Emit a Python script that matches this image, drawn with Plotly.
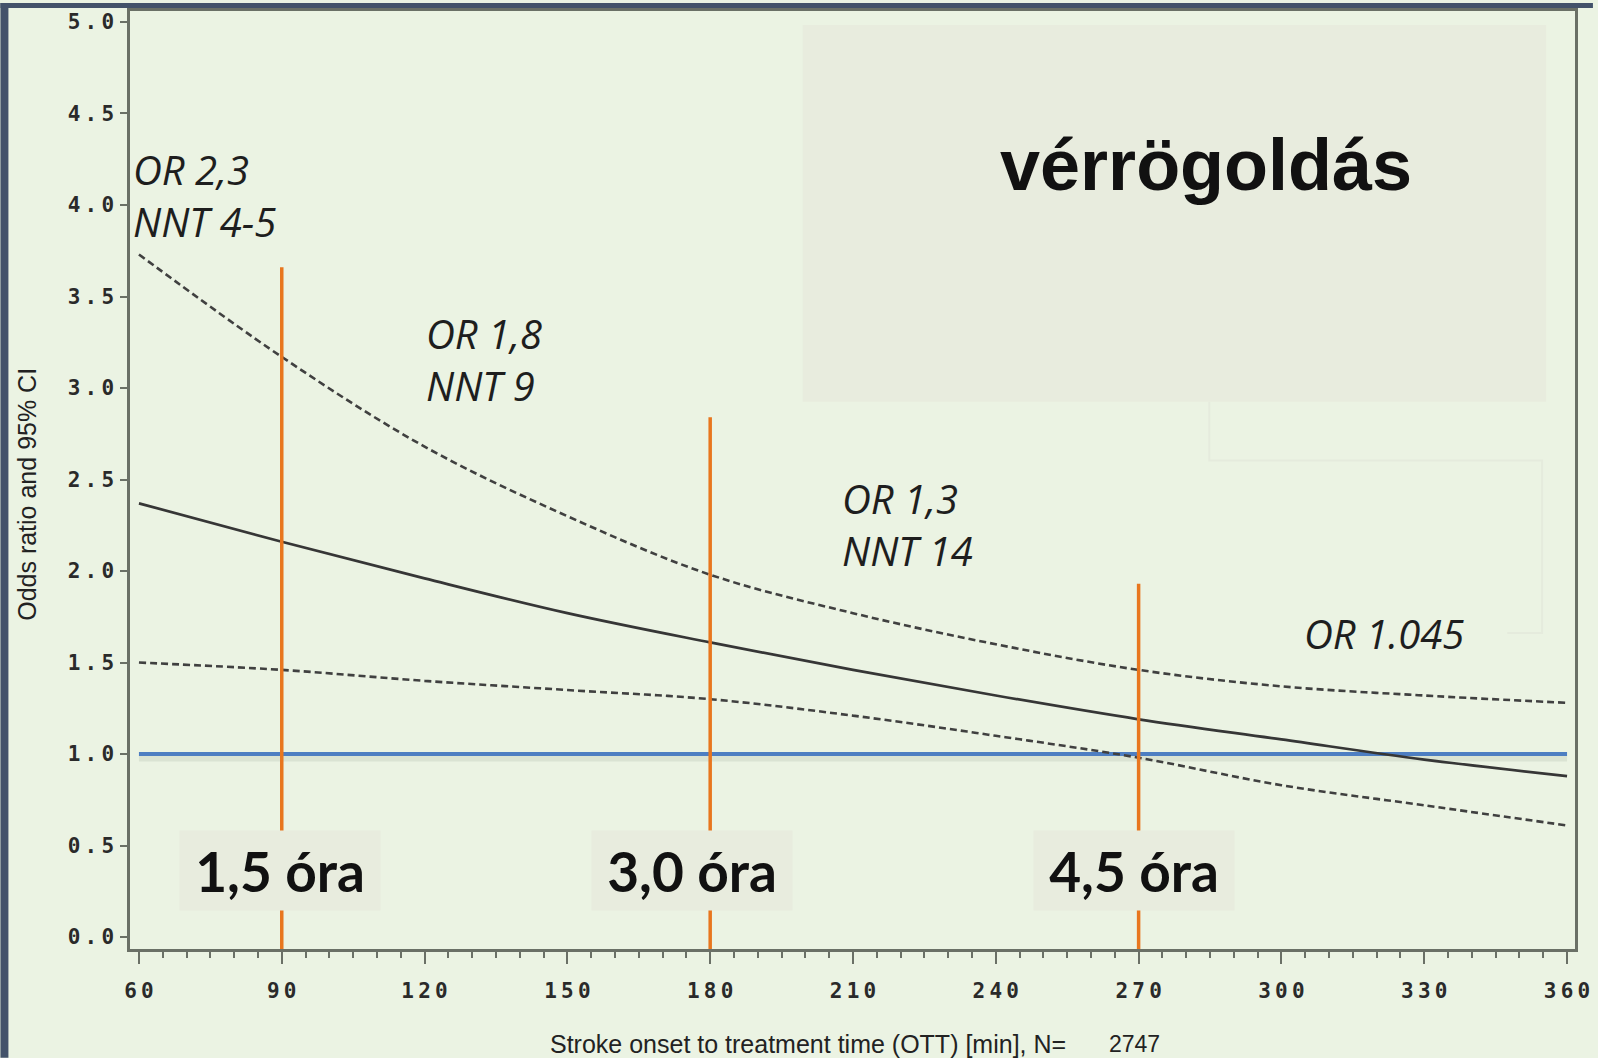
import plotly.graph_objects as go

# Stroke onset to treatment time (minutes) and odds ratio with 95% CI
ott_min = [60, 90, 120, 150, 180, 210, 240, 270, 300, 330, 360]
odds_ratio = [2.37, 2.16, 1.96, 1.77, 1.61, 1.46, 1.32, 1.19, 1.08, 0.97, 0.88]
ci_upper = [3.73, 3.17, 2.68, 2.30, 1.98, 1.77, 1.60, 1.46, 1.37, 1.32, 1.28]
ci_lower = [1.50, 1.46, 1.40, 1.35, 1.30, 1.21, 1.10, 0.98, 0.83, 0.72, 0.61]

# Reference line OR = 1
ref_x = [60, 360]
ref_y = [1.0, 1.0]

# Time markers (minutes) and the height of each marker line
marker_min = [90, 180, 270]
marker_top = [3.66, 2.84, 1.93]
marker_labels = ["1,5 óra", "3,0 óra", "4,5 óra"]

# Effect annotations
effect_labels = ["OR 2,3<br>NNT 4-5", "OR 1,8<br>NNT 9", "OR 1,3<br>NNT 14", "OR 1.045"]

title_text = "vérrögoldás"
x_title = "Stroke onset to treatment time (OTT) [min], N="
n_text = "2747"
y_title = "Odds ratio and 95% CI"

y_ticks = [0.0, 0.5, 1.0, 1.5, 2.0, 2.5, 3.0, 3.5, 4.0, 4.5, 5.0]
x_ticks = [60, 90, 120, 150, 180, 210, 240, 270, 300, 330, 360]

W, H = 1598, 1058
ML, MR, MT, MB = 130, 18, 8, 109
PW, PH = W - ML - MR, H - MT - MB
XMIN, XMAX = 58.12, 361.67
YMIN, YMAX = -0.065, 5.06

BG = "#EBF3E3"
BOX = "#E8ECDE"
SLATE = "#43526A"
ORANGE = "#E8761E"
CURVE = "#363636"


def px_x(px):
    return XMIN + (px - ML) / PW * (XMAX - XMIN)


def px_y(py):
    return YMAX - (py - MT) / PH * (YMAX - YMIN)


def paper_x(px):
    return (px - ML) / PW


def paper_y(py):
    return (MT + PH - py) / PH


THIN = "<span style='font-size:7px'> </span>"


def spaced(s):
    return THIN.join(list(s))


fig = go.Figure()

# shadow under the reference line
fig.add_trace(go.Scatter(x=ref_x, y=[v - 0.022 for v in ref_y], mode="lines",
                         line=dict(color="rgba(60,70,50,0.09)", width=7),
                         hoverinfo="skip", showlegend=False))
fig.add_trace(go.Scatter(x=ref_x, y=ref_y, mode="lines",
                         line=dict(color="#4D7EC2", width=4),
                         hoverinfo="skip", showlegend=False))

# confidence band limits and the OR curve
fig.add_trace(go.Scatter(x=ott_min, y=ci_upper, mode="lines", line_shape="spline",
                         line=dict(color="#404040", width=2.6, dash="7px,4px"),
                         showlegend=False))
fig.add_trace(go.Scatter(x=ott_min, y=ci_lower, mode="lines", line_shape="spline",
                         line=dict(color="#404040", width=2.6, dash="7px,4px"),
                         showlegend=False))
fig.add_trace(go.Scatter(x=ott_min, y=odds_ratio, mode="lines", line_shape="spline",
                         line=dict(color=CURVE, width=2.7),
                         showlegend=False))

# vertical time markers
for m, top in zip(marker_min, marker_top):
    fig.add_trace(go.Scatter(x=[m, m], y=[YMIN, top], mode="lines",
                             line=dict(color=ORANGE, width=3.5),
                             hoverinfo="skip", showlegend=False))

shapes = [
    # title panel
    dict(type="rect", xref="x", yref="y", x0=px_x(805), x1=px_x(1551),
         y0=px_y(400), y1=px_y(22), fillcolor=BOX, line=dict(width=0), layer="below"),
    # faint connector from the panel
    dict(type="path", xref="x", yref="y",
         path=f"M {px_x(1213)},{px_y(400)} L {px_x(1213)},{px_y(459)} "
              f"L {px_x(1547)},{px_y(459)} L {px_x(1547)},{px_y(632)} L {px_x(1512)},{px_y(632)}",
         line=dict(color="#E5EBDD", width=2), layer="below"),
    # slate frame strips
    dict(type="rect", xref="paper", yref="paper", x0=paper_x(0), x1=paper_x(8),
         y0=paper_y(H), y1=paper_y(0), fillcolor=SLATE, line=dict(width=0)),
    dict(type="rect", xref="paper", yref="paper", x0=paper_x(0), x1=paper_x(W),
         y0=paper_y(5), y1=paper_y(0), fillcolor=SLATE, line=dict(width=0)),
]

annotations = [
    dict(x=px_x(1210), y=px_y(162), xref="x", yref="y", text=f"<b>{title_text}</b>",
         showarrow=False, xanchor="center", yanchor="middle",
         font=dict(family="Liberation Sans", size=72, color="#111111")),
    dict(x=paper_x(27), y=paper_y(493), xref="paper", yref="paper", text=y_title,
         textangle=-90, showarrow=False, xanchor="center", yanchor="middle",
         font=dict(family="Liberation Sans", size=25, color="#222222")),
    dict(x=paper_x(549), y=paper_y(1044), xref="paper", yref="paper", text=x_title,
         showarrow=False, xanchor="left", yanchor="middle",
         font=dict(family="Liberation Sans", size=25, color="#222222")),
    dict(x=paper_x(1110), y=paper_y(1044), xref="paper", yref="paper", text=n_text,
         showarrow=False, xanchor="left", yanchor="middle",
         font=dict(family="Liberation Sans", size=23, color="#222222")),
]

# effect labels (left edge px, block centre px)
effect_pos = [(131, 193), (425, 358), (842, 523), (1306, 632)]
for txt, (lx, cy) in zip(effect_labels, effect_pos):
    annotations.append(dict(x=px_x(lx), y=px_y(cy), xref="x", yref="y", text=f"<i>{txt}</i>",
                            showarrow=False, xanchor="left", yanchor="middle", align="left",
                            font=dict(family="Open Sans", size=40, color="#1E1E1E")))

# boxed time labels (box centre px)
box_centres = [281, 693.5, 1137]
for txt, cx in zip(marker_labels, box_centres):
    annotations.append(dict(x=px_x(cx), y=px_y(870.5), xref="x", yref="y",
                            text=f"<b>{txt}</b>", showarrow=False,
                            xanchor="center", yanchor="middle",
                            width=200, height=79, bgcolor=BOX, borderpad=0,
                            font=dict(family="Lato", size=55, color="#111111")))

axis_line = "#6A7066"
tick_font = dict(family="DejaVu Sans Mono", size=21, color="#2A2A2A", weight="bold")

fig.update_layout(
    width=W, height=H,
    margin=dict(l=ML, r=MR, t=MT, b=MB),
    paper_bgcolor=BG, plot_bgcolor=BG,
    shapes=shapes, annotations=annotations,
    showlegend=False,
    xaxis=dict(range=[XMIN, XMAX], showgrid=False, zeroline=False,
               showline=True, linecolor=axis_line, linewidth=2.5, mirror=True,
               ticks="outside", ticklen=12, tickwidth=2, tickcolor=axis_line,
               tickvals=x_ticks, ticktext=[spaced(str(v)) for v in x_ticks],
               ticklabelstandoff=9,
               tickfont=tick_font,
               minor=dict(dtick=5, tick0=60, ticks="outside", ticklen=6, tickwidth=1.5,
                          tickcolor=axis_line, showgrid=False)),
    yaxis=dict(range=[YMIN, YMAX], showgrid=False, zeroline=False,
               showline=True, linecolor=axis_line, linewidth=2.5, mirror=True,
               ticks="outside", ticklen=7, tickwidth=2, tickcolor=axis_line,
               tickvals=y_ticks, ticktext=[spaced(f"{v:.1f}") for v in y_ticks],
               ticklabelstandoff=2,
               tickfont=tick_font),
)

fig.write_html("out.html")
